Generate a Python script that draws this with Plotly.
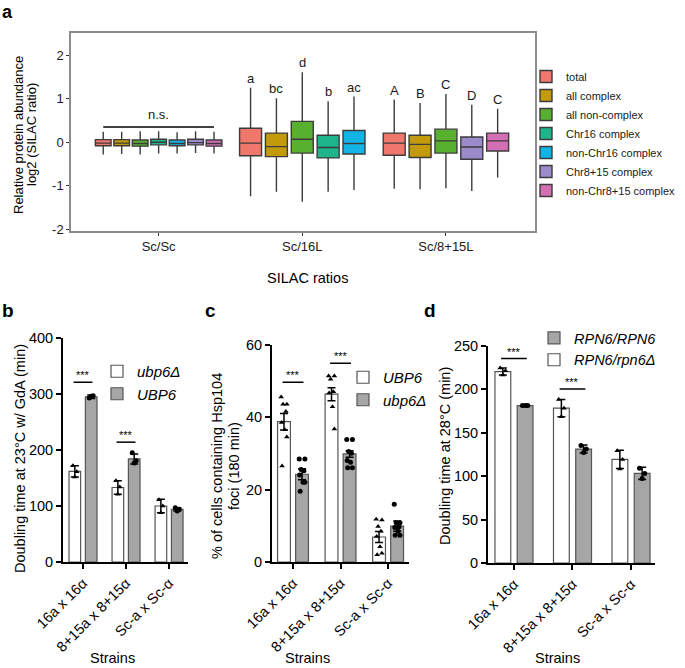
import plotly.graph_objects as go

W, H = 685, 668
FONT = "Liberation Sans, Arial, sans-serif"

# ---------------- Panel a data ----------------
groups_a = ["Sc/Sc", "Sc/16L", "Sc/8+15L"]
cats_a = ["total", "all complex", "all non-complex", "Chr16 complex",
          "non-Chr16 complex", "Chr8+15 complex", "non-Chr8+15 complex"]
colors_a = ["#F0776C", "#C39A0A", "#58B12E", "#1FB58C", "#12B4E6", "#9B8BCB", "#D56FB5"]
members_a = [[0, 1, 2, 3, 4, 5, 6], [0, 1, 2, 3, 4], [0, 1, 2, 5, 6]]
lo_a = [[-0.28, -0.27, -0.28, -0.26, -0.26, -0.25, -0.26],
        [-1.24, -1.14, -1.37, -1.14, -1.10],
        [-1.07, -1.08, -1.06, -1.12, -0.81]]
q1_a = [[-0.08, -0.08, -0.09, -0.06, -0.08, -0.06, -0.09],
        [-0.31, -0.33, -0.25, -0.36, -0.27],
        [-0.30, -0.35, -0.25, -0.39, -0.20]]
med_a = [[-0.02, -0.02, -0.03, 0.00, -0.03, -0.01, -0.03],
         [-0.02, -0.10, 0.07, -0.12, -0.03],
         [-0.02, -0.05, 0.03, -0.11, 0.03]]
q3_a = [[0.06, 0.06, 0.05, 0.07, 0.05, 0.07, 0.05],
        [0.32, 0.21, 0.48, 0.16, 0.27],
        [0.21, 0.16, 0.30, 0.12, 0.21]]
hi_a = [[0.24, 0.24, 0.25, 0.25, 0.23, 0.25, 0.24],
        [1.25, 1.01, 1.61, 0.94, 1.05],
        [0.98, 0.90, 1.11, 0.86, 0.77]]
letters_a = [[], ["a", "bc", "d", "b", "ac"], ["A", "B", "C", "D", "C"]]
ns_level_a = 0.35
yticks_a = [-2, -1, 0, 1, 2]

# ---------------- Panels b, c, d data ----------------
strains = ["16a x 16α", "8+15a x 8+15α", "Sc-a x Sc-α"]

b_names = ["<i>ubp6Δ</i>", "<i>UBP6</i>"]
b_mean = [[162, 133, 100], [295, 184, 94]]
b_err = [[10, 12, 12], [3, 9, 3]]
b_pts = [[[172, 161, 152], [145, 134, 121], [111, 100, 88]],
         [[293, 297, 296], [195, 181, 177], [97, 94, 91]]]
b_sig = [321, 214]
b_ticks = [0, 100, 200, 300, 400]

c_names = ["<i>UBP6</i>", "<i>ubp6Δ</i>"]
c_mean = [[38.7, 46.3, 6.9], [24.2, 29.8, 9.9]]
c_err = [[2.3, 1.8, 1.5], [1.5, 0.9, 1.4]]
c_pts = [[[45.5, 43.5, 43.5, 41.5, 38.5, 36.5, 34.5, 26.5],
          [51.3, 51.3, 50.4, 47.0, 46.6, 42.8, 36.7],
          [11.8, 11.6, 9.8, 8.5, 7.0, 4.2, 2.4, 2.0]],
         [[28.4, 28.4, 25.5, 25.2, 24.0, 22.0, 22.0, 19.5],
          [33.8, 33.8, 30.5, 30.0, 28.0, 27.5, 26.0, 26.0],
          [15.9, 10.8, 10.8, 9.7, 9.5, 8.5, 7.4, 7.4]]]
c_sig = [49.6, 54.8]
c_ticks = [0, 20, 40, 60]

d_names = ["<i>RPN6/rpn6Δ</i>", "<i>RPN6/RPN6</i>"]
d_mean = [[220, 178, 119], [181, 131, 103]]
d_err = [[4, 10, 10.5], [1, 4.5, 7]]
d_pts = [[[224, 221, 216], [188, 178, 168], [129, 119, 108]],
         [[181, 181, 181], [135, 131, 127], [109, 103, 97]]]
d_sig = [235, 200]
d_ticks = [0, 50, 100, 150, 200, 250]

fig = go.Figure()
shapes = []
annotations = []


def px_x(p):
    return p / W


def px_y(p):
    return 1 - p / H


# ---------------- Panel a ----------------
for g in range(3):
    n = len(members_a[g])
    step = 0.9 / n
    pos_list = []
    for j, k in enumerate(members_a[g]):
        pos = g + (j - (n - 1) / 2) * step
        pos_list.append(pos)
        fig.add_trace(go.Box(
            x=[pos], lowerfence=[lo_a[g][j]], q1=[q1_a[g][j]], median=[med_a[g][j]],
            q3=[q3_a[g][j]], upperfence=[hi_a[g][j]], width=step * 0.85,
            fillcolor=colors_a[k], line=dict(color="#3C3C3C", width=1.4),
            whiskerwidth=0, boxpoints=False, name=cats_a[k], legendgroup=cats_a[k],
            showlegend=(g == 0), xaxis="x", yaxis="y", hoverinfo="skip"))
        if letters_a[g]:
            annotations.append(dict(x=pos, y=hi_a[g][j], xref="x", yref="y",
                                    text=letters_a[g][j], showarrow=False,
                                    yanchor="bottom", font=dict(size=13, color="#1a1a1a")))
    if g == 0:
        shapes.append(dict(type="line", xref="x", yref="y", x0=pos_list[0], x1=pos_list[-1],
                           y0=ns_level_a, y1=ns_level_a, line=dict(color="black", width=1.3)))
        annotations.append(dict(x=sum(pos_list) / len(pos_list), y=ns_level_a, xref="x", yref="y",
                                text="n.s.", showarrow=False, yanchor="bottom", yshift=3,
                                font=dict(size=13, color="#1a1a1a")))

# ---------------- Panels b, c, d ----------------
OFF = 0.19
BW = 0.27
fills = ["white", "#A6A6A6"]
edges = ["#555555", "#555555"]
symbols = ["triangle-up", "circle"]
spread3 = [-0.045, 0.045, 0.0]
spread8 = [-0.06, 0.06, -0.02, 0.04, -0.05, 0.02, 0.06, -0.04]


def bar_panel(n, means, errs, pts, names, legend, ranks, spread, sig, msize):
    xa, ya = f"x{n}", f"y{n}"
    for s in range(2):
        xs = [i + (2 * s - 1) * OFF for i in range(3)]
        fig.add_trace(go.Bar(
            x=xs, y=means[s], width=BW,
            marker=dict(color=fills[s], line=dict(color=edges[s], width=1.2)),
            xaxis=xa, yaxis=ya, name=names[s], legend=legend, legendrank=ranks[s],
            hoverinfo="skip"))
        px_, py_ = [], []
        for i in range(3):
            for k, v in enumerate(pts[s][i]):
                px_.append(xs[i] + spread[k % len(spread)])
                py_.append(v)
        fig.add_trace(go.Scatter(
            x=px_, y=py_, mode="markers",
            marker=dict(symbol=symbols[s], size=msize, color="black"),
            xaxis=xa, yaxis=ya, showlegend=False, cliponaxis=False, hoverinfo="skip"))
        fig.add_trace(go.Scatter(
            x=xs, y=means[s], mode="markers", marker=dict(size=1, color="rgba(0,0,0,0)"),
            error_y=dict(type="data", array=errs[s], color="black", thickness=1.5, width=4),
            xaxis=xa, yaxis=ya, showlegend=False, cliponaxis=False, hoverinfo="skip"))
    for i, lev in enumerate(sig):
        shapes.append(dict(type="line", xref=xa, yref=ya, x0=i - OFF - 0.03, x1=i + OFF + 0.03,
                           y0=lev, y1=lev, line=dict(color="black", width=1.5)))
        annotations.append(dict(x=i, y=lev, xref=xa, yref=ya, text="***", showarrow=False,
                                yanchor="bottom", yshift=-1, font=dict(size=11, color="black")))


bar_panel(2, b_mean, b_err, b_pts, b_names, "legend2", [1, 2], spread3, b_sig, 5)
bar_panel(3, c_mean, c_err, c_pts, c_names, "legend3", [1, 2], spread8, c_sig, 5)
bar_panel(4, d_mean, d_err, d_pts, d_names, "legend4", [2, 1], spread3, d_sig, 5)

tickfont_bar = dict(size=14.5, color="black", family=FONT)


def bar_axes(xdom, ydom, xr, yr, ticks, n):
    xa = dict(domain=[px_x(xdom[0]), px_x(xdom[1])], range=xr, tickvals=[0, 1, 2],
              ticktext=strains, tickangle=-45, showline=True, linecolor="black", linewidth=2,
              ticks="outside", ticklen=5, tickwidth=1.5, tickcolor="black", automargin=False,
              tickfont=tickfont_bar, showgrid=False, zeroline=False, anchor=f"y{n}")
    ya = dict(domain=[px_y(ydom[1]), px_y(ydom[0])], range=yr, tickvals=ticks,
              showline=True, linecolor="black", linewidth=2, automargin=False,
              ticks="outside", ticklen=5, tickwidth=1.5, tickcolor="black",
              tickfont=tickfont_bar, showgrid=False, zeroline=False, anchor=f"x{n}")
    return xa, ya


xb, yb = bar_axes((63, 188), (338, 562), [-0.465, 2.44], [0, 400], b_ticks, 2)
xc, yc = bar_axes((272, 409), (344.5, 562), [-0.442, 2.44], [0, 60], c_ticks, 3)
xd, yd = bar_axes((488, 655), (345.5, 563), [-0.444, 2.41], [0, 250], d_ticks, 4)

# ---------------- Text annotations ----------------
def ann(x, y, text, size, bold=False, angle=0, color="black"):
    t = f"<b>{text}</b>" if bold else text
    annotations.append(dict(x=px_x(x), y=px_y(y), xref="paper", yref="paper", text=t,
                            showarrow=False, xanchor="center", yanchor="middle",
                            textangle=angle, font=dict(size=size, color=color, family=FONT)))


ann(8, 12, "a", 18, bold=True)
ann(8, 311, "b", 19, bold=True)
ann(210, 311, "c", 19, bold=True)
ann(430, 311, "d", 19, bold=True)
ann(18, 135, "Relative protein abundance", 13, angle=-90)
ann(31, 135, "log2 (SILAC ratio)", 13, angle=-90)
ann(307, 278, "SILAC ratios", 14.5)
ann(20, 459, "Doubling time at 23°C w/ GdA (min)", 14.5, angle=-90)
ann(217, 466, "% of cells containing Hsp104", 14.5, angle=-90)
ann(234, 466, "foci (180 min)", 14.5, angle=-90)
ann(445, 456, "Doubling time at 28°C (min)", 14.5, angle=-90)
ann(113, 658, "Strains", 14.5)
ann(307, 658, "Strains", 14.5)
ann(557, 658, "Strains", 14.5)

legend_common = dict(bgcolor="rgba(0,0,0,0)", borderwidth=0, tracegroupgap=0,
                     xanchor="left", yanchor="top", itemclick=False, itemdoubleclick=False)

fig.update_layout(
    width=W, height=H, autosize=False,
    margin=dict(l=0, r=0, t=0, b=0, pad=0),
    paper_bgcolor="white", plot_bgcolor="rgba(0,0,0,0)",
    font=dict(family=FONT, color="black"),
    barmode="overlay", boxmode="overlay",
    xaxis=dict(domain=[px_x(71), px_x(535)], range=[-0.61, 2.62], tickvals=[0, 1, 2],
               ticktext=groups_a, showline=True, mirror=True, linecolor="#8C8C8C",
               linewidth=1.5, ticks="outside", ticklen=3, tickwidth=1.2, tickcolor="#333333",
               tickfont=dict(size=13, color="#1a1a1a"), showgrid=False, zeroline=False,
               anchor="y", automargin=False),
    yaxis=dict(domain=[px_y(231), px_y(33)], range=[-2.04, 2.51], tickvals=yticks_a,
               ticktext=[str(v) for v in yticks_a], showline=True, mirror=True,
               linecolor="#8C8C8C", linewidth=1.5, ticks="outside", ticklen=3, tickwidth=1.2,
               tickcolor="#333333", tickfont=dict(size=13, color="#1a1a1a"),
               showgrid=False, zeroline=False, anchor="x", automargin=False),
    xaxis2=xb, yaxis2=yb, xaxis3=xc, yaxis3=yc, xaxis4=xd, yaxis4=yd,
    legend=dict(x=px_x(526), y=px_y(62), font=dict(size=11, color="#1a1a1a"), **legend_common),
    legend2=dict(x=px_x(97), y=px_y(355), font=dict(size=15), **legend_common),
    legend3=dict(x=px_x(343), y=px_y(361), font=dict(size=15), **legend_common),
    legend4=dict(x=px_x(534), y=px_y(322), font=dict(size=14.5), **legend_common),
    shapes=shapes, annotations=annotations,
)

fig.write_html("out.html", config={"displayModeBar": False},
               post_script="document.body.style.margin='0px';document.body.style.overflow='hidden';")
